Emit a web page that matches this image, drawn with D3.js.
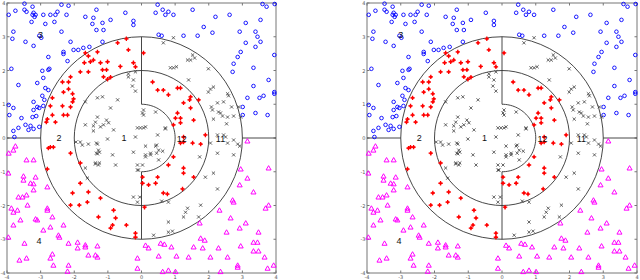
<!DOCTYPE html>
<html>
<head>
<meta charset="utf-8">
<script src="https://cdn.jsdelivr.net/npm/d3@7"></script>
<style>
  body { margin: 0; background: #fff; }
  svg { display: block; }
  .tick-lab { font-family: "DejaVu Sans", sans-serif; font-size: 5px; fill: #555; }
  .reg-lab { font-family: "Liberation Sans", sans-serif; font-size: 9px; fill: #111; }
</style>
</head>
<body>
<svg width="640" height="280"></svg>
<script>
// region 3 (top, outside radius 3) - blue circles
const classTop = [
  [-3.48,3.98],[-3.24,3.89],[-3.75,3.77],[-3.48,3.80],[-3.42,3.74],[-3.21,3.71],[-3.24,3.65],[-3.15,3.65],
  [-3.18,3.59],[-2.92,3.65],[-2.71,3.65],[-2.56,3.65],[-2.50,3.74],[-2.38,3.95],[-2.17,3.92],[-3.95,3.65],
  [-3.27,3.44],[-2.86,3.38],[-2.59,3.44],[-2.23,3.65],[-1.67,3.59],[-1.34,3.80],[-1.43,3.56],[-1.46,3.38],
  [-1.16,3.41],[-0.92,3.50],[-0.48,3.71],[-0.24,3.47],[-0.24,3.35],[-1.13,3.20],[-1.34,3.20],[-3.81,3.15],
  [-2.38,3.15],[-3.04,3.03],[-2.98,2.97],[-3.84,2.94],[-3.45,2.85],[-3.21,2.73],[-2.11,2.85],[-2.32,2.55],
  [-2.32,2.49],[-2.02,2.61],[-1.88,2.61],[-1.73,2.67],[-1.55,2.70],[-2.20,2.28],[-2.77,2.40],[-2.74,2.05],
  [-2.77,2.02],[-2.95,1.99],[-3.87,2.05],[-3.66,1.57],[-3.10,1.63],[-2.92,1.78],[-2.86,1.48],[-2.77,1.42],
  [-2.95,1.25],[-2.89,1.13],[-3.21,1.07],[-2.92,0.95],[-3.10,0.92],[-3.04,0.89],[-3.21,0.83],[-3.24,0.62],
  [-3.13,0.65],[-3.57,0.59],[-3.95,0.98],[-3.81,0.89],[-3.93,0.68],[-3.45,0.39],[-3.66,0.30],[-3.81,0.21],
  [-3.30,0.36],[-3.21,0.27],[-3.78,0.03],[-3.04,0.33],[-3.36,0.24],[-1.16,2.85],
  [0.48,3.95],[0.42,3.71],[0.63,3.80],[0.71,3.65],[0.80,3.74],[0.95,3.65],[1.52,3.80],[2.20,3.59],
  [2.62,3.65],[3.60,3.97],[3.72,3.89],[3.96,3.97],[3.54,3.50],[3.10,3.41],[1.85,3.29],[1.25,3.03],
  [1.67,3.03],[2.11,3.12],[2.92,3.15],[3.39,3.15],[3.45,3.00],[3.54,2.85],[3.10,2.82],[2.95,2.55],
  [3.39,2.70],[3.95,2.46],[2.86,2.40],[2.74,2.20],[2.71,1.96],[3.33,2.08],[3.33,1.54],[3.78,1.72],
  [3.95,1.36],[3.95,1.31],[3.63,1.25],[3.51,1.19],[3.15,1.19],[3.75,0.68],[3.39,0.74],[3.01,0.68],
  [3.01,0.92],[0.51,3.06],[0.60,3.03]
];

// region 4 (bottom, outside radius 3) - magenta triangles
const classBottom = [
  [-3.75,-0.24],[-3.95,-0.45],[-3.81,-0.36],[-3.42,-0.65],[-3.21,-0.65],[-3.96,-1.04],[-3.51,-1.13],[-3.51,-1.25],
  [-3.15,-1.16],[-3.30,-1.34],[-3.21,-1.36],[-2.80,-1.45],[-3.21,-1.54],[-3.66,-1.75],[-3.54,-1.75],[-3.42,-1.69],
  [-3.87,-2.08],[-3.81,-2.20],[-3.69,-2.14],[-3.39,-1.99],[-2.80,-2.08],[-2.80,-2.14],[-3.15,-2.40],[-3.60,-2.43],
  [-3.81,-2.58],[-3.10,-2.43],[-2.65,-2.34],[-2.32,-2.58],[-2.71,-2.64],[-2.92,-2.73],[-3.96,-2.94],[-3.48,-3.12],
  [-2.47,-2.88],[-2.44,-2.94],[-2.17,-3.12],[-1.90,-3.09],[-1.90,-3.26],[-1.67,-3.17],[-1.67,-3.23],[-1.31,-3.20],
  [-1.31,-3.53],[-1.37,-3.47],[-1.58,-3.47],[-2.71,-3.56],[-2.65,-3.44],[-3.63,-3.62],[-3.42,-3.56],[-2.62,-3.77],
  [-2.17,-3.77],[-2.20,-3.95],[-0.12,-3.56],[-0.12,-3.86],
  [3.15,-0.09],[3.78,-0.89],[3.15,-1.19],[2.95,-0.92],[2.92,-1.39],[3.33,-1.60],[2.71,-1.84],[2.74,-1.90],
  [3.78,-1.99],[3.69,-2.08],[2.32,-2.14],[2.65,-2.37],[3.10,-2.52],[2.53,-2.79],[2.92,-2.67],[3.48,-2.79],
  [1.76,-2.97],[1.88,-3.03],[1.73,-2.52],[0.12,-3.18],[0.21,-3.26],[0.57,-3.12],[0.68,-3.15],[0.89,-3.23],
  [1.55,-3.23],[1.82,-3.26],[2.29,-3.26],[2.95,-3.20],[3.33,-3.09],[3.45,-3.09],[3.33,-3.35],[3.48,-3.35],
  [3.66,-3.53],[0.51,-3.50],[1.04,-3.50],[1.40,-3.53],[2.05,-3.53],[2.56,-3.53],[2.86,-3.77],[2.86,-3.83],
  [3.75,-3.86],[3.93,-3.77],[0.63,-3.96],[0.80,-3.92],[1.01,-3.96],[2.35,-3.96]
];

// regions 2 and 12 - red plus
const classRing = [
  [-0.45,2.94],[-0.71,2.82],[-0.39,2.61],[-1.31,2.55],[-1.67,2.52],[-1.58,2.43],[-1.43,2.31],[-1.22,2.23],
  [-1.70,2.23],[-1.52,2.26],[-1.01,2.26],[-1.16,2.02],[-1.04,2.02],[-1.82,1.96],[-0.63,2.12],[-0.24,2.23],
  [-0.18,2.11],[-1.13,1.81],[-1.01,1.74],[-0.92,1.80],[-1.58,1.96],[-2.11,1.81],[-2.35,1.66],[-2.17,1.66],
  [-2.17,1.45],[-2.32,1.36],[-2.05,1.31],[-2.02,1.16],[-2.05,1.07],[-2.35,0.95],[-2.11,0.92],[-2.65,1.19],
  [-2.71,0.95],[-2.65,0.68],[-2.32,0.68],[-2.20,0.68],[-2.80,0.56],[-2.83,0.47],[-2.56,0.47],
  [-2.77,-0.30],[-2.71,-0.27],[-2.62,-0.27],[-2.11,-0.45],[-1.82,-0.74],[-2.80,-0.92],[-1.82,-1.34],[-1.58,-1.60],
  [-2.05,-1.63],[-1.85,-1.99],[-1.61,-1.90],[-1.22,-1.78],[-2.11,-1.99],[-0.83,-2.14],[-1.28,-2.34],[-0.77,-2.37],
  [-0.45,-2.58],[-0.86,-2.58],[-0.92,-2.67],[-0.18,-2.82],[-0.18,-2.94],
  [0.06,2.52],[0.33,1.66],[0.48,1.42],[0.65,1.42],[0.80,1.28],[1.07,1.48],[1.16,1.48],[1.46,1.22],
  [1.43,1.13],[1.70,1.13],[1.25,1.04],[1.46,0.89],[1.07,0.74],[1.01,0.59],[1.16,0.59],[1.55,0.53],
  [0.95,0.39],[1.25,0.03],[1.90,0.09],[1.16,0.45],
  [1.16,-0.15],[1.25,-0.12],[1.52,-0.15],[1.76,-0.18],[0.95,-0.56],[0.80,-0.80],[1.25,-0.89],[1.25,-1.04],
  [1.55,-1.16],[1.22,-1.51],[0.03,-1.16],[0.03,-1.34],[0.21,-1.39],[0.42,-1.34],[0.48,-1.16],[0.65,-1.63],
  [0.77,-1.66],[0.09,-2.05]
];

// regions 1 and 11 - black x
const classCore = [
  [-0.39,1.81],[-0.24,1.72],[-0.27,1.54],[-0.18,1.39],[-0.18,1.96],[-0.39,1.90],[-1.31,1.19],[-1.16,1.22],
  [-0.71,1.13],[-0.92,0.89],[-1.67,1.07],[-1.31,0.62],[-1.04,0.53],[-1.22,0.33],[-1.43,0.36],[-1.67,0.39],
  [-0.83,0.24],[-0.12,0.30],[-0.18,0.03],[-1.37,0.47],[-1.13,0.39],[-0.98,0.45],[-1.43,0.21],[-1.01,-0.03],
  [-1.34,-0.15],[-1.28,-0.36],[-1.34,-0.45],[-0.86,-0.50],[-1.37,-0.74],[-1.25,-0.74],[-0.77,-0.80],[-0.03,0.30],
  [0.06,0.30],[0.48,0.09],[0.71,0.30],[0.03,0.74],[0.06,0.68],[0.45,-0.21],[0.12,-0.50],[0.27,-0.45],
  [-0.24,-0.42],[0.45,-0.45],[0.51,-0.65],[-0.12,-0.80],[0.03,-0.80],[-0.09,-0.95],
  [-1.95,-0.12],[-1.82,-0.12],[-1.76,-0.21],[-1.58,-0.18],[-1.31,-0.18],[-1.31,-0.47],[-1.25,-0.42],[-1.28,-0.80],
  [-1.37,-0.77],[-1.67,-0.89],[-1.61,-1.19],[-0.12,-0.95],[-0.24,-1.75],[-0.12,-1.90],
  [0.65,2.82],[0.95,2.97],[1.52,2.46],[1.58,2.37],[1.37,2.31],[1.46,2.31],[0.86,2.08],[0.95,2.08],
  [1.04,2.11],[1.99,2.05],[1.40,1.72],[2.05,1.45],[2.14,1.51],[1.99,1.36],[2.56,1.31],[2.59,1.25],
  [2.44,1.07],[2.26,1.04],[2.08,0.92],[2.11,0.83],[2.35,0.74],[2.41,0.65],[2.29,0.77],[2.68,0.92],
  [2.74,0.65],[2.56,0.62],[2.89,0.92],[2.95,0.62],[2.14,0.56],[2.53,0.42],[2.44,0.09],[2.50,0.03],
  [2.26,0.09],[0.06,0.83],[0.42,0.77],[0.12,0.33],[0.71,0.27],
  [0.42,-0.24],[0.27,-0.50],[0.12,-0.56],[0.51,-0.36],[0.63,-0.39],[-0.05,-1.75],[0.60,-1.87],[0.80,-1.90],
  [1.37,-2.08],[1.31,-2.20],[1.76,-1.99],[1.25,-2.34],[1.70,-2.34],[0.80,-2.49],[0.80,-2.79],[0.92,-2.76],
  [0.36,-2.88],[0.12,-0.24],[2.05,-0.15],[2.56,-0.15],[2.86,-0.18],[2.92,-0.24],[2.26,-0.45],[2.74,-0.50],
  [2.14,-1.04],[1.90,-1.16],[2.26,-1.51],[2.74,-0.06],[1.73,-0.56]
];

const regionLabels = [
  { t: '1', x: -0.52, y: 0.0 },
  { t: '2', x: -2.45, y: 0.0 },
  { t: '12', x: 1.2, y: -0.02 },
  { t: '11', x: 2.35, y: -0.02 },
  { t: '3', x: -3.0, y: 3.05 },
  { t: '4', x: -3.05, y: -3.05 }
];

const ticks = [-4, -3, -2, -1, 0, 1, 2, 3, 4];

const svg = d3.select('svg');
const panels = [{ x0: 7, x1: 276 }, { x0: 367, x1: 637 }];
const plotTop = 3, plotBottom = 273;

panels.forEach(p => {
  const xScale = d3.scaleLinear().domain([-4, 4]).range([p.x0, p.x1]);
  const yScale = d3.scaleLinear().domain([-4, 4]).range([plotBottom, plotTop]);
  const g = svg.append('g');
  const sx = xScale(1) - xScale(0);
  const sy = yScale(0) - yScale(1);

  // marco
  g.append('rect')
    .attr('x', p.x0).attr('y', plotTop)
    .attr('width', p.x1 - p.x0).attr('height', plotBottom - plotTop)
    .attr('fill', 'none').attr('stroke', '#777').attr('stroke-width', 1);

  // ticks hacia dentro
  ticks.forEach(t => {
    g.append('line').attr('x1', xScale(t)).attr('x2', xScale(t))
      .attr('y1', plotBottom).attr('y2', plotBottom - 2.5).attr('stroke', '#777');
    g.append('line').attr('x1', xScale(t)).attr('x2', xScale(t))
      .attr('y1', plotTop).attr('y2', plotTop + 2.5).attr('stroke', '#777');
    g.append('line').attr('y1', yScale(t)).attr('y2', yScale(t))
      .attr('x1', p.x0).attr('x2', p.x0 + 2.5).attr('stroke', '#777');
    g.append('line').attr('y1', yScale(t)).attr('y2', yScale(t))
      .attr('x1', p.x1).attr('x2', p.x1 - 2.5).attr('stroke', '#777');
    g.append('text').attr('class', 'tick-lab')
      .attr('x', xScale(t)).attr('y', plotBottom + 6)
      .attr('text-anchor', 'middle').text(t);
    g.append('text').attr('class', 'tick-lab')
      .attr('x', p.x0 - 1.5).attr('y', yScale(t) + 2)
      .attr('text-anchor', 'end').text(t);
  });

  // fronteras de regiones
  const cx = xScale(0), cy = yScale(0);
  const line = d3.line().x(d => xScale(d[0])).y(d => yScale(d[1]));
  const stroke = '#333';
  [3, 2].forEach(r => {
    g.append('ellipse').attr('cx', cx).attr('cy', cy)
      .attr('rx', r * sx).attr('ry', r * sy)
      .attr('fill', 'none').attr('stroke', stroke).attr('stroke-width', 0.9);
  });
  const half = d3.range(-90, 91, 3).map(a => [Math.cos(a * Math.PI / 180), Math.sin(a * Math.PI / 180)]);
  g.append('path').attr('d', line(half)).attr('fill', 'none').attr('stroke', stroke).attr('stroke-width', 0.9);
  [[[0, 1], [0, 3]], [[0, -1], [0, -3]], [[-4, 0], [-3, 0]], [[3, 0], [4, 0]]].forEach(seg => {
    g.append('path').attr('d', line(seg)).attr('fill', 'none').attr('stroke', stroke).attr('stroke-width', 0.9);
  });

  // puntos
  g.selectAll('circle.top').data(classTop).enter().append('circle')
    .attr('class', 'top')
    .attr('cx', d => xScale(d[0])).attr('cy', d => yScale(d[1]))
    .attr('r', 1.8).attr('fill', 'none').attr('stroke', '#0000ff').attr('stroke-width', 0.9);

  const tri = d3.symbol().type(d3.symbolTriangle).size(11);
  g.selectAll('path.bot').data(classBottom).enter().append('path')
    .attr('class', 'bot')
    .attr('d', tri)
    .attr('transform', d => `translate(${xScale(d[0])},${yScale(d[1]) + 0.5})`)
    .attr('fill', 'none').attr('stroke', '#ff00ff').attr('stroke-width', 1);

  g.selectAll('path.ring').data(classRing).enter().append('path')
    .attr('class', 'ring')
    .attr('d', 'M-2.2,0H2.2M0,-2.2V2.2M-1,-1L1,1M-1,1L1,-1')
    .attr('transform', d => `translate(${xScale(d[0])},${yScale(d[1])})`)
    .attr('stroke', '#ff0000').attr('stroke-width', 1.3);

  g.selectAll('path.core').data(classCore).enter().append('path')
    .attr('class', 'core')
    .attr('d', 'M-1.6,-1.6L1.6,1.6M-1.6,1.6L1.6,-1.6')
    .attr('transform', d => `translate(${xScale(d[0])},${yScale(d[1])})`)
    .attr('stroke', '#333').attr('stroke-width', 0.75);

  // etiquetas de regiones
  g.selectAll('text.reg').data(regionLabels).enter().append('text')
    .attr('class', 'reg-lab')
    .attr('x', d => xScale(d.x)).attr('y', d => yScale(d.y) + 3)
    .attr('text-anchor', 'middle')
    .text(d => d.t);
});
</script>
</body>
</html>
